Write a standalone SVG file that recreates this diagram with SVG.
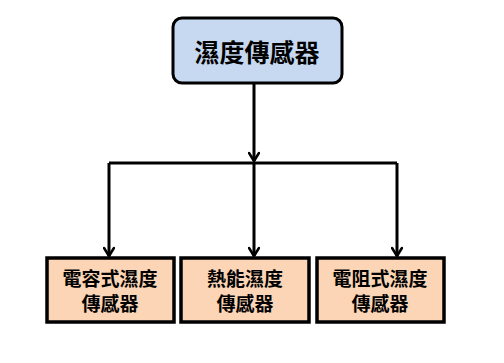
<svg xmlns="http://www.w3.org/2000/svg" width="504" height="363" viewBox="0 0 504 363">
<defs>
<marker id="arr" viewBox="0 0 12 12" refX="10" refY="6" markerWidth="12" markerHeight="12" markerUnits="userSpaceOnUse" orient="auto">
<path d="M2,1 L10,6 L2,11" fill="none" stroke="#000" stroke-width="2.6" stroke-linecap="round" stroke-linejoin="round"/>
</marker>
<style>
.edge{fill:none;stroke:#000;stroke-width:3;}
.root{fill:#c6d9f0;stroke:#000;stroke-width:3;}
.leaf{fill:#fbd5b5;stroke:#000;stroke-width:3.5;}
text{font-family:"Noto Sans CJK TC","Noto Sans CJK SC",sans-serif;font-weight:bold;fill:#000;text-anchor:middle;dominant-baseline:central;}
.t1{font-size:25px;}
.t2{font-size:19px;}
</style>
</defs>
<g id="connectors">
<path class="edge" d="M254,84 V161" marker-end="url(#arr)"/>
<path class="edge" d="M109,163 H397"/>
<path class="edge" d="M109,163 V256" marker-end="url(#arr)"/>
<path class="edge" d="M254,163 V256" marker-end="url(#arr)"/>
<path class="edge" d="M397,163 V256" marker-end="url(#arr)"/>
</g>
<g id="root">
<rect class="root" x="173" y="18" width="169" height="65" rx="9"/>
<text class="t1" x="257" y="51">濕度傳感器</text>
</g>
<g id="n1">
<rect class="leaf" x="47" y="258" width="127" height="64"/>
<text class="t2" x="110" y="277">電容式濕度</text>
<text class="t2" x="110" y="302">傳感器</text>
</g>
<g id="n2">
<rect class="leaf" x="181" y="258" width="128" height="64"/>
<text class="t2" x="245" y="277">熱能濕度</text>
<text class="t2" x="245" y="302">傳感器</text>
</g>
<g id="n3">
<rect class="leaf" x="317" y="258" width="127" height="64"/>
<text class="t2" x="380" y="277">電阻式濕度</text>
<text class="t2" x="380" y="302">傳感器</text>
</g>
</svg>
